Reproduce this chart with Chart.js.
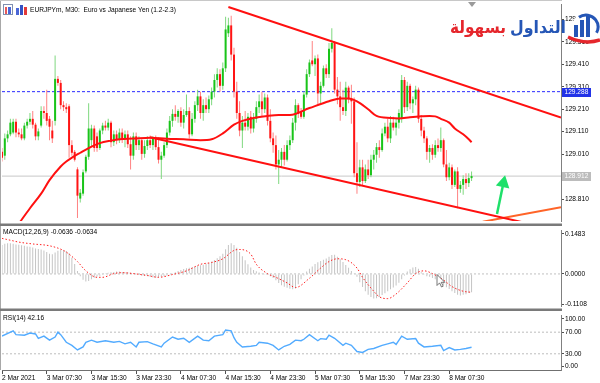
<!DOCTYPE html>
<html><head><meta charset="utf-8">
<script src="https://cdn.jsdelivr.net/npm/chart.js@4.4.1/dist/chart.umd.min.js"></script>
<style>
html,body{margin:0;padding:0;background:#fff;width:600px;height:383px;overflow:hidden}
canvas{position:absolute;left:0}
#cA{top:0}#cB{top:226px}#cC{top:311px}
</style></head><body>
<canvas id="cA" width="600" height="226"></canvas>
<canvas id="cB" width="600" height="85"></canvas>
<canvas id="cC" width="600" height="72"></canvas>
<script>
// ================= DATA =================
const chartTitle = 'EURJPYm, M30:  Euro vs Japanese Yen (1.2-2.3)';
const macdTitle = 'MACD(12,26,9) -0.0636 -0.0634';
const rsiTitle = 'RSI(14) 42.16';
const logoBlue = 'التداول';
const logoRed = 'بسهولة';

const timeTickIdx = [0,16,32,48,64,80,96,112,128,144,160];
const timeTickLabels = ['2 Mar 2021','3 Mar 07:30','3 Mar 15:30','3 Mar 23:30','4 Mar 07:30','4 Mar 15:30','4 Mar 23:30','5 Mar 07:30','5 Mar 15:30','7 Mar 23:30','8 Mar 07:30'];

const priceTicks = [129.61,129.51,129.41,129.31,129.21,129.11,129.01,128.91,128.81];
const priceMin = 128.712, priceMax = 129.674;
const askLevel = 129.288;
const lastPrice = 128.912;

const opens = [
129.020,129.003,129.080,129.098,129.106,129.154,129.106,129.098,129.080,129.137,
129.154,129.167,129.141,129.089,129.137,129.202,129.193,129.167,129.115,129.158,
129.345,129.327,129.228,129.219,129.223,129.050,129.020,128.942,128.812,128.834,
128.933,128.998,129.072,129.124,129.089,129.037,129.115,129.137,129.128,129.150,
129.063,129.098,129.072,129.106,129.076,129.098,129.054,129.003,129.089,129.050,
129.072,129.011,129.046,129.072,129.050,129.080,129.041,128.985,129.003,129.050,
129.106,129.158,129.189,129.176,129.202,129.150,129.184,129.202,129.098,129.167,
129.228,129.267,129.193,129.228,129.210,129.254,129.288,129.340,129.366,129.314,
129.392,129.548,129.583,129.453,129.288,129.193,129.115,129.150,129.132,129.176,
129.124,129.167,129.219,129.245,129.210,129.262,129.158,129.080,129.050,128.964,
128.985,129.020,128.985,129.050,129.072,129.150,129.228,129.202,129.176,129.275,
129.366,129.427,129.410,129.436,129.280,129.314,129.392,129.366,129.479,129.505,
129.297,129.267,129.219,129.202,129.306,129.254,129.245,128.925,128.886,128.951,
128.890,128.942,128.916,128.985,129.007,129.041,129.028,129.102,129.132,129.080,
129.150,129.128,129.150,129.167,129.340,129.219,129.314,129.236,129.254,129.297,
129.167,129.115,129.080,129.020,129.037,129.007,129.050,129.037,129.072,128.964,
128.907,128.951,128.873,128.933,128.855,128.873,128.899,128.881,128.903];
const highs = [
129.037,129.102,129.115,129.167,129.167,129.167,129.124,129.124,129.150,129.167,
129.193,129.202,129.150,129.124,129.223,129.223,129.297,129.180,129.158,129.449,
129.358,129.340,129.245,129.236,129.232,129.072,129.028,128.951,128.855,128.942,
129.007,129.236,129.141,129.137,129.106,129.124,129.150,129.158,129.167,129.158,
129.115,129.115,129.124,129.124,129.115,129.115,129.089,129.106,129.106,129.089,
129.080,129.072,129.089,129.093,129.089,129.093,129.085,129.020,129.063,129.124,
129.180,129.210,129.228,129.210,129.219,129.210,129.275,129.219,129.193,129.245,
129.297,129.288,129.254,129.262,129.271,129.306,129.366,129.392,129.388,129.418,
129.622,129.617,129.626,129.483,129.332,129.245,129.180,129.202,129.193,129.202,
129.193,129.245,129.275,129.288,129.280,129.275,129.210,129.106,129.093,129.028,
129.037,129.050,129.072,129.093,129.171,129.254,129.236,129.215,129.288,129.388,
129.431,129.514,129.449,129.453,129.332,129.405,129.410,129.505,129.570,129.514,
129.353,129.332,129.297,129.332,129.314,129.319,129.262,129.063,128.985,128.985,
128.964,128.985,129.007,129.028,129.059,129.072,129.124,129.150,129.167,129.180,
129.176,129.167,129.210,129.362,129.353,129.332,129.323,129.267,129.314,129.306,
129.184,129.132,129.089,129.050,129.054,129.072,129.080,129.128,129.080,129.028,
128.972,128.964,128.942,128.951,128.890,128.916,128.925,128.925,128.933];
const lows = [
128.977,128.985,129.063,129.089,129.098,129.085,129.085,129.072,129.072,129.124,
129.141,129.124,129.072,129.072,129.128,129.167,129.137,129.072,129.059,129.137,
129.314,129.210,129.202,129.193,128.994,129.003,128.977,128.725,128.795,128.825,
128.925,128.985,129.046,129.020,129.020,129.028,129.098,129.115,129.115,129.041,
129.046,129.054,129.059,129.059,129.041,129.037,128.942,128.985,129.028,129.028,
128.985,128.994,129.028,129.037,129.028,129.028,128.968,128.899,128.994,129.037,
129.093,129.132,129.158,129.150,129.132,129.124,129.176,129.080,129.089,129.150,
129.202,129.167,129.158,129.193,129.193,129.228,129.262,129.306,129.288,129.297,
129.375,129.531,129.427,129.262,129.167,129.089,129.037,129.115,129.115,129.102,
129.106,129.150,129.193,129.180,129.193,129.137,129.063,129.016,128.942,128.877,
128.951,128.959,128.977,129.028,129.059,129.115,129.171,129.167,129.167,129.262,
129.353,129.401,129.358,129.232,129.236,129.306,129.349,129.349,129.462,129.280,
129.232,129.158,129.184,129.180,129.236,129.145,128.907,128.834,128.864,128.873,
128.881,128.899,128.907,128.942,128.972,128.994,129.020,129.089,129.063,129.059,
129.115,129.093,129.124,129.150,129.193,129.202,129.210,129.193,129.228,129.150,
129.089,129.059,128.985,128.972,128.985,128.994,129.020,129.020,128.951,128.890,
128.894,128.855,128.864,128.769,128.838,128.829,128.855,128.864,128.890];
const closes = [
128.994,129.080,129.098,129.150,129.154,129.106,129.098,129.080,129.137,129.154,
129.167,129.141,129.089,129.111,129.202,129.193,129.158,129.132,129.080,129.345,
129.327,129.228,129.219,129.210,129.050,129.016,128.985,128.825,128.838,128.929,
128.998,129.124,129.124,129.037,129.037,129.115,129.137,129.128,129.150,129.063,
129.098,129.072,129.106,129.076,129.098,129.054,129.003,129.089,129.050,129.072,
129.011,129.046,129.072,129.050,129.080,129.041,128.985,129.003,129.050,129.106,
129.158,129.189,129.176,129.202,129.150,129.184,129.202,129.098,129.167,129.228,
129.267,129.193,129.228,129.210,129.254,129.288,129.340,129.366,129.314,129.392,
129.565,129.583,129.453,129.288,129.193,129.115,129.150,129.132,129.176,129.124,
129.167,129.219,129.245,129.210,129.262,129.158,129.080,129.050,128.964,128.985,
129.020,128.985,129.050,129.072,129.150,129.228,129.189,129.176,129.275,129.366,
129.418,129.410,129.436,129.280,129.314,129.392,129.366,129.479,129.505,129.297,
129.267,129.219,129.202,129.306,129.254,129.245,128.925,128.886,128.951,128.890,
128.942,128.916,128.985,129.007,129.041,129.028,129.102,129.132,129.080,129.150,
129.128,129.150,129.193,129.340,129.219,129.314,129.236,129.254,129.297,129.167,
129.115,129.080,129.020,129.037,129.007,129.050,129.037,129.072,128.964,128.907,
128.951,128.873,128.933,128.855,128.873,128.899,128.881,128.903,128.912];

// moving average (read points)
const maIdx = [6,10,14,17,21,23,25,28,31,35,39,42,47,53,59,65,71,75,79,83,86,90,95,99,103,110,117,121,124,127,131,134,139,142,146,150,153,155,157,160,162,165,167,168];
const maVal = [128.700,128.769,128.834,128.894,128.955,128.977,128.994,129.016,129.037,129.059,129.070,129.076,129.079,129.083,129.078,129.076,129.072,129.076,129.102,129.141,129.158,129.171,129.180,129.184,129.184,129.215,129.245,129.258,129.258,129.245,129.210,129.180,129.171,129.169,129.174,129.178,129.180,129.178,129.167,129.150,129.124,129.098,129.076,129.063];

// drawn lines (bar index, price)
const upperTrendIdx = [81, 200], upperTrendVal = [129.665, 129.173];
const lowerTrendIdx = [53, 190], lowerTrendVal = [129.085, 128.696];
const orangeTrendIdx = [172, 200], orangeTrendVal = [128.709, 128.773];
const arrowIdx = [177.1, 179.4], arrowVal = [128.743, 128.881];

// MACD
const macdMax = 0.1483, macdMin = -0.1108;
const macdTickLabels = ['0.1483', '0.0000', '-0.1108'];
const macdHist = [
0.100,0.104,0.106,0.106,0.104,0.102,0.101,0.099,0.097,0.095,
0.094,0.091,0.088,0.086,0.084,0.081,0.076,0.070,0.068,0.074,
0.080,0.083,0.082,0.079,0.072,0.056,0.034,0.010,-0.008,-0.020,
-0.026,-0.024,-0.018,-0.013,-0.009,-0.006,-0.003,0.001,0.004,0.006,
0.007,0.008,0.008,0.007,0.006,0.006,0.004,0.002,-0.002,-0.004,
-0.006,-0.007,-0.008,-0.010,-0.012,-0.013,-0.012,-0.010,-0.008,-0.005,
-0.002,0.002,0.006,0.010,0.014,0.017,0.020,0.021,0.023,0.025,
0.028,0.030,0.032,0.035,0.038,0.043,0.048,0.054,0.061,0.070,
0.085,0.100,0.106,0.100,0.090,0.076,0.061,0.047,0.033,0.022,
0.014,0.009,0.005,0.002,-0.001,-0.004,-0.008,-0.014,-0.022,-0.031,
-0.039,-0.044,-0.048,-0.051,-0.053,-0.050,-0.036,-0.018,-0.005,0.008,
0.018,0.026,0.034,0.040,0.045,0.049,0.053,0.059,0.065,0.066,
0.059,0.051,0.041,0.031,0.021,0.010,0.002,-0.010,-0.029,-0.045,
-0.060,-0.072,-0.080,-0.085,-0.084,-0.080,-0.073,-0.067,-0.060,-0.053,
-0.047,-0.040,-0.030,-0.018,-0.005,0.008,0.016,0.022,0.024,0.018,
0.006,-0.003,-0.008,-0.010,-0.014,-0.018,-0.024,-0.030,-0.038,-0.046,
-0.052,-0.060,-0.066,-0.072,-0.074,-0.072,-0.070,-0.066,-0.0636];
const sigIdx = [0,3,6,11,17,22,24,27,30,34,36,40,43,47,52,56,61,66,71,75,79,83,85,89,91,95,98,102,105,110,114,117,120,123,127,129,133,135,138,141,145,148,151,154,158,161,165,168];
const sigVal = [0.1227,0.1163,0.1099,0.1035,0.0971,0.0811,0.0683,0.0427,0.0107,-0.0117,-0.0117,0.0011,0.0043,0.0011,-0.0053,-0.0117,-0.0021,0.0107,0.0331,0.0395,0.0523,0.0811,0.0843,0.0683,0.0331,0.0011,-0.0117,-0.0309,-0.0469,-0.0149,0.0203,0.0427,0.0523,0.0491,0.0203,-0.0117,-0.0597,-0.0789,-0.0852,-0.0692,-0.0309,0.0011,0.0107,0.0011,-0.0213,-0.0437,-0.0597,-0.0634];

// RSI
const rsiLevels = [70, 30];
const rsiTickLabels = ['100.00', '70.00', '30.00', '0.00'];
const rsiIdx = [0,4,5,8,10,12,13,15,17,19,20,21,23,25,27,29,30,32,34,37,40,42,44,46,48,49,52,54,57,58,61,63,65,67,70,72,74,76,79,80,82,83,84,86,89,91,92,95,97,99,101,103,105,107,108,110,113,114,116,117,119,122,123,125,127,129,131,133,136,138,140,141,143,145,148,149,151,154,157,158,160,162,164,166,168];
const rsiVal = [62.7,72.3,65.5,64.4,68.4,66.7,58.7,62.7,55.2,61.0,70.1,65.5,51.3,45.6,37.1,42.7,51.3,55.2,51.3,54.2,51.3,53.0,48.4,51.3,42.7,51.3,52.5,48.4,42.7,49.6,61.0,56.9,58.7,51.3,62.7,55.2,54.2,62.7,65.5,74.0,72.3,59.8,51.3,42.7,43.9,45.6,51.3,49.6,45.6,37.1,43.9,47.4,55.2,54.2,56.9,65.5,54.2,58.1,56.9,64.4,58.7,45.6,49.6,45.6,34.2,32.5,38.1,39.8,45.6,48.4,51.3,47.4,62.7,56.9,58.1,49.6,42.7,43.9,45.6,35.9,41.5,37.1,38.1,39.8,42.16];

// ================= STYLE / HELPERS =================
const FAM = '"Liberation Sans", Arial, sans-serif';
const FS = 6.6;
const tickFont = {family: FAM, size: FS};
const fontCss = FS + 'px ' + FAM;
const X_MIN = 0, X_MAX = 200;
Chart.defaults.font.family = FAM;

const pts = (xs, ys) => xs.map((x, k) => ({x, y: ys[k]}));
const idx = closes.map((_, i) => i);
const up = i => closes[i] >= opens[i];

function xHidden() {
  return {type: 'linear', min: X_MIN, max: X_MAX, offset: false, display: false};
}
function yRight(min, max, tickVals, labelFn) {
  return {
    type: 'linear', position: 'right', min, max,
    afterFit: s => { s.width = 39; },
    afterBuildTicks: s => { s.ticks = tickVals.map(v => ({value: v})); },
    ticks: {autoSkip: false, font: tickFont, color: '#000', padding: 1, callback: labelFn},
    grid: {display: true, drawOnChartArea: false, drawTicks: true, tickLength: 3, color: '#505050'},
    border: {display: true, color: '#808080', width: 1}
  };
}
const baseOpts = (pad) => ({
  responsive: false, animation: false, events: [],
  layout: {padding: pad, autoPadding: false},
  plugins: {legend: {display: false}, tooltip: {enabled: false}}
});
function leftEdge(ctx, h) {
  ctx.fillStyle = '#a8a8a8';
  ctx.fillRect(0, 0, 1, h);
}

// ================= MAIN PRICE CHART =================
const mainDecor = {
  id: 'mainDecor',
  afterDraw(chart) {
    const {ctx, scales: {y}} = chart;
    ctx.save();
    leftEdge(ctx, 224);
    ctx.fillStyle = '#c8c8c8'; ctx.fillRect(0, 0, 562, 1);
    ctx.fillStyle = '#7a7a7a'; ctx.fillRect(0, 223.5, 562, 2.5);

    // price boxes on axis
    const box = (val, fill) => {
      const py = Math.round(y.getPixelForValue(val));
      ctx.fillStyle = fill; ctx.fillRect(562, py - 4, 29, 9);
      ctx.fillStyle = '#fff'; ctx.font = fontCss; ctx.textBaseline = 'middle'; ctx.textAlign = 'left';
      ctx.fillText(val.toFixed(3), 564.5, py + 0.5);
    };
    box(askLevel, '#2233e8');
    box(lastPrice, '#bcbcbc');

    // title + icons
    ctx.fillStyle = '#000'; ctx.font = fontCss; ctx.textBaseline = 'middle'; ctx.textAlign = 'left';
    ctx.fillText(chartTitle, 30, 10);
    ctx.strokeStyle = '#8090b0'; ctx.lineWidth = 1; ctx.strokeRect(3.5, 4.5, 9, 10);
    ctx.fillStyle = '#e65a5a'; ctx.fillRect(5, 7, 2, 7);
    ctx.fillStyle = '#4a66d6'; ctx.fillRect(8, 7, 3, 7);
    ctx.fillStyle = '#4a66d6'; ctx.fillRect(16, 8, 3, 7);
    ctx.fillStyle = '#3452c4'; ctx.fillRect(20, 5, 3, 10);
    ctx.fillStyle = '#e23a3a'; ctx.fillRect(24, 7, 3, 8);

    // chart shift marker
    ctx.fillStyle = '#9a9a9a';
    ctx.beginPath(); ctx.moveTo(468, 2); ctx.lineTo(476, 2); ctx.lineTo(472, 7); ctx.closePath(); ctx.fill();

    // logo text
    ctx.textBaseline = 'alphabetic'; ctx.textAlign = 'right';
    ctx.font = 'bold 17px "DejaVu Sans"';
    const blueW = Math.min(ctx.measureText(logoBlue).width, 56);
    ctx.fillStyle = '#2556b6'; ctx.fillText(logoBlue, 566, 33, 56);
    ctx.fillStyle = '#e5262c'; ctx.fillText(logoRed, 566 - blueW - 4, 33, 56);
    // logo mark
    ctx.fillStyle = '#fff';
    ctx.beginPath(); ctx.arc(586, 27, 14, 0, Math.PI * 2); ctx.fill();
    ctx.strokeStyle = '#2556b6'; ctx.lineWidth = 3;
    ctx.beginPath(); ctx.arc(586, 27, 12, -2.2, 0.5); ctx.stroke();
    ctx.fillStyle = '#2556b6';
    ctx.fillRect(574, 25, 4, 12); ctx.fillRect(580, 20, 4, 17); ctx.fillRect(586, 15, 4, 22);
    ctx.strokeStyle = '#e5262c'; ctx.lineWidth = 3.5;
    ctx.beginPath(); ctx.moveTo(568, 37); ctx.quadraticCurveTo(585, 45, 600, 40); ctx.stroke();
    ctx.restore();
  }
};

new Chart(document.getElementById('cA'), {
  type: 'bar',
  data: {datasets: [
    {type: 'line', data: pts(arrowIdx, arrowVal), borderColor: '#1fe06a', borderWidth: 2.5,
     pointRadius: [0, 5.5], pointStyle: 'triangle', pointRotation: 12,
     pointBackgroundColor: '#1fe06a', pointBorderColor: '#1fe06a', order: 0},
    {type: 'line', data: pts(upperTrendIdx, upperTrendVal), borderColor: '#ff1010', borderWidth: 2, pointRadius: 0, order: 1},
    {type: 'line', data: pts(lowerTrendIdx, lowerTrendVal), borderColor: '#ff1010', borderWidth: 2, pointRadius: 0, order: 1},
    {type: 'line', data: pts(orangeTrendIdx, orangeTrendVal), borderColor: '#ff6428', borderWidth: 2, pointRadius: 0, order: 1},
    {type: 'line', data: pts(maIdx, maVal), borderColor: '#ff1010', borderWidth: 2, pointRadius: 0,
     cubicInterpolationMode: 'monotone', order: 2},
    {type: 'bar', grouped: false, data: idx.map(i => ({x: i, y: [Math.min(opens[i], closes[i]), Math.max(opens[i], closes[i])]})),
     backgroundColor: c => up(c.dataIndex) ? '#19c419' : '#ff1414',
     categoryPercentage: 1, barPercentage: 0.75, maxBarThickness: 2, order: 5},
    {type: 'bar', grouped: false, data: idx.map(i => ({x: i, y: [lows[i], highs[i]]})),
     backgroundColor: c => up(c.dataIndex) ? '#7fd87f' : '#ff8282',
     categoryPercentage: 1, barPercentage: 0.4, maxBarThickness: 1, order: 6},
    {type: 'line', data: pts([X_MIN, X_MAX], [askLevel, askLevel]), borderColor: '#2b2bff', borderWidth: 1,
     borderDash: [3, 2], pointRadius: 0, order: 7},
    {type: 'line', data: pts([X_MIN, X_MAX], [lastPrice, lastPrice]), borderColor: '#c8c8c8', borderWidth: 1,
     pointRadius: 0, order: 8}
  ]},
  options: Object.assign(baseOpts({left: 2, right: 0, top: 1, bottom: 3}), {
    scales: {x: xHidden(), y: yRight(priceMin, priceMax, priceTicks, v => v.toFixed(3))}
  }),
  plugins: [mainDecor]
});

// ================= MACD =================
const macdRange = macdMax - macdMin;
const macdTickPos = [macdMax - macdRange * 3 / 81, 0, macdMin + macdRange * 2 / 81];
const macdDecor = {
  id: 'macdDecor',
  afterDraw(chart) {
    const {ctx} = chart;
    ctx.save();
    leftEdge(ctx, 83);
    ctx.fillStyle = '#7a7a7a'; ctx.fillRect(0, 82.5, 562, 2.5);
    ctx.fillStyle = '#000'; ctx.font = fontCss; ctx.textBaseline = 'middle'; ctx.textAlign = 'left';
    ctx.fillText(macdTitle, 3, 6);
    // mouse pointer
    ctx.translate(437, 48.5);
    ctx.beginPath();
    ctx.moveTo(0, 0); ctx.lineTo(0, 11); ctx.lineTo(2.6, 8.4); ctx.lineTo(4.5, 12.5);
    ctx.lineTo(6.2, 11.7); ctx.lineTo(4.3, 7.8); ctx.lineTo(7.8, 7.8); ctx.closePath();
    ctx.fillStyle = '#fff'; ctx.fill(); ctx.strokeStyle = '#555'; ctx.lineWidth = 0.8; ctx.stroke();
    ctx.restore();
  }
};
new Chart(document.getElementById('cB'), {
  type: 'bar',
  data: {datasets: [
    {type: 'line', data: pts(sigIdx, sigVal), borderColor: '#ff2020', borderWidth: 1, borderDash: [1.5, 2],
     pointRadius: 0, cubicInterpolationMode: 'monotone', order: 0},
    {type: 'bar', grouped: false, data: pts(idx, macdHist), backgroundColor: '#c4c4c4',
     categoryPercentage: 1, barPercentage: 0.4, maxBarThickness: 1, order: 2},
    {type: 'line', data: pts([X_MIN, X_MAX], [0, 0]), borderColor: '#c0c0c0', borderWidth: 1,
     borderDash: [2, 2], pointRadius: 0, order: 3}
  ]},
  options: Object.assign(baseOpts({left: 2, right: 0, top: 1, bottom: 3}), {
    scales: {x: xHidden(), y: yRight(macdMin, macdMax, macdTickPos, (v, i) => macdTickLabels[i])}
  }),
  plugins: [macdDecor]
});

// ================= RSI + TIME AXIS =================
const rsiTickPos = [100 - 3 / 58 * 100, 70, 30, 4 / 58 * 100];
const rsiDecor = {
  id: 'rsiDecor',
  afterDraw(chart) {
    const {ctx} = chart;
    ctx.save();
    leftEdge(ctx, 59);
    ctx.fillStyle = '#000'; ctx.font = fontCss; ctx.textBaseline = 'middle'; ctx.textAlign = 'left';
    ctx.fillText(rsiTitle, 3, 7);
    ctx.restore();
  }
};
new Chart(document.getElementById('cC'), {
  type: 'line',
  data: {datasets: [
    {data: pts(rsiIdx, rsiVal), borderColor: '#52abff', borderWidth: 1.4, pointRadius: 0, order: 0},
    ...rsiLevels.map(l => ({data: pts([X_MIN, X_MAX], [l, l]), borderColor: '#bdbdbd', borderWidth: 1,
      borderDash: [2, 2], pointRadius: 0, order: 2}))
  ]},
  options: Object.assign(baseOpts({left: 2, right: 0, top: 1, bottom: 0}), {
    scales: {
      x: {type: 'linear', min: X_MIN, max: X_MAX, offset: false,
        afterBuildTicks: s => { s.ticks = timeTickIdx.map(v => ({value: v})); },
        afterFit: s => { s.height = 13; },
        ticks: {autoSkip: false, maxRotation: 0, minRotation: 0, align: 'start', padding: 0,
          font: tickFont, color: '#000', callback: (v, i) => timeTickLabels[i]},
        grid: {display: true, drawOnChartArea: false, drawTicks: true, tickLength: 4, color: '#505050'},
        border: {display: true, color: '#707070', width: 1}},
      y: yRight(0, 100, rsiTickPos, (v, i) => rsiTickLabels[i])
    }
  }),
  plugins: [rsiDecor]
});
</script>
</body></html>
